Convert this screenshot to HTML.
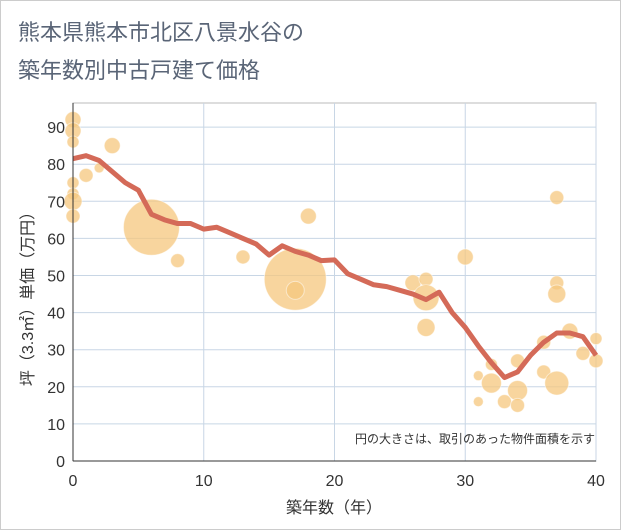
<!DOCTYPE html>
<html><head><meta charset="utf-8"><style>
body{margin:0;background:#fff;}
svg{display:block;font-family:"Liberation Sans","Noto Sans CJK JP",sans-serif;}
</style></head><body>
<svg width="621" height="530">
<rect x="0.5" y="0.5" width="620" height="529" fill="#fff" stroke="#ccc"/>
<text x="18" y="40" font-size="22" fill="#5a6577">熊本県熊本市北区八景水谷の</text>
<text x="18" y="78" font-size="22" fill="#5a6577">築年数別中古戸建て価格</text>
<g id="grid"></g><g id="bubbles"></g><g id="line"></g><g id="axes"></g>
<text x="595" y="443" font-size="12" fill="#333" text-anchor="end">円の大きさは、取引のあった物件面積を示す</text>
<text x="334" y="513" font-size="16" fill="#333" text-anchor="middle">築年数（年）</text>
<text transform="translate(33,295) rotate(-90)" font-size="16" fill="#333" text-anchor="middle">坪（3.3㎡）単価（万円）</text>
</svg>
<script>
const xTicks=[0,10,20,30,40];
const yTicks=[0,10,20,30,40,50,60,70,80,90];
const lineYears=[0,1,2,3,4,5,6,7,8,9,10,11,12,13,14,15,16,17,18,19,20,21,22,23,24,25,26,27,28,29,30,31,32,33,34,35,36,37,38,39,40];
const lineValues=[81.5,82.3,81,78,75,73,66.5,65,64,64,62.5,63,61.5,60,58.5,55.5,58,56.5,55.5,54,54.2,50.5,49,47.5,47,46,45,43.5,45.5,40,36,31,26.5,22.5,24,28.5,32,34.5,34.5,33.5,28.5];
const bubbleYears=[0,0,0,0,0,0,0,1,2,3,6,8,13,17,17,18,26,27,27,27,30,31,31,32,32,33,34,34,34,36,36,37,37,37,37,38,39,40,40];
const bubbleValues=[92,89,86,75,72,70,66,77,79,85,63,54,55,49,46,66,48,49,44,36,55,23,16,26,21,16,27,19,15,32,24,71,48,45,21,35,29,33,27];
const bubbleAreas=[8,8,6,6,6,9,7,7,5,8,28,7,7,31,9,8,8,7,13,9,8,5,5,6,10,7,7,10,7,7,7,7,7,9,12,8,7,6,7];
const X0=73,X1=596,Y0=461,PX=(X1-X0)/40,PY=3.71,TOP=103;
const sx=v=>X0+v*PX, sy=v=>Y0-v*PY;
const NS="http://www.w3.org/2000/svg";
function mk(t,a,p){const e=document.createElementNS(NS,t);for(const k in a)e.setAttribute(k,a[k]);p.appendChild(e);return e;}
const grid=document.getElementById('grid');
const fr=mk('rect',{x:X0,y:TOP,width:X1-X0,height:Y0-TOP,fill:'none',stroke:'#bbb','stroke-width':1},grid);


yTicks.forEach(v=>{const l=mk('line',{x1:X0,x2:X1,y1:sy(v),y2:sy(v),stroke:'#c8d6e5','stroke-width':1},grid);

});
xTicks.forEach(v=>{const l=mk('line',{x1:sx(v),x2:sx(v),y1:TOP,y2:Y0,stroke:'#c8d6e5','stroke-width':1},grid);

});
const bg=document.getElementById('bubbles');
bubbleYears.forEach((v,i)=>{const c=mk('circle',{cx:sx(v),cy:sy(bubbleValues[i]),r:bubbleAreas[i],fill:'#f5c77e','fill-opacity':0.75,stroke:'#fff','stroke-opacity':0.5},bg);

});
const pts=lineYears.map((v,i)=>sx(v)+','+sy(lineValues[i])).join(' ');
const pl=mk('polyline',{points:pts,fill:'none',stroke:'#d46a58','stroke-width':5,'stroke-linejoin':'round'},document.getElementById('line'));


const ax=document.getElementById('axes');
const a1=mk('line',{x1:X0,x2:X0,y1:TOP,y2:Y0,stroke:'#333','stroke-width':1},ax);


const a2=mk('line',{x1:X0,x2:X1,y1:Y0,y2:Y0,stroke:'#333','stroke-width':1},ax);


yTicks.forEach(v=>{const t=mk('text',{x:X0-8,y:sy(v)+6,'font-size':16,fill:'#333','text-anchor':'end'},ax);t.textContent=v;

});
xTicks.forEach(v=>{const t=mk('text',{x:sx(v),y:Y0+25,'font-size':16,fill:'#333','text-anchor':'middle'},ax);t.textContent=v;

});
</script>
</body></html>
